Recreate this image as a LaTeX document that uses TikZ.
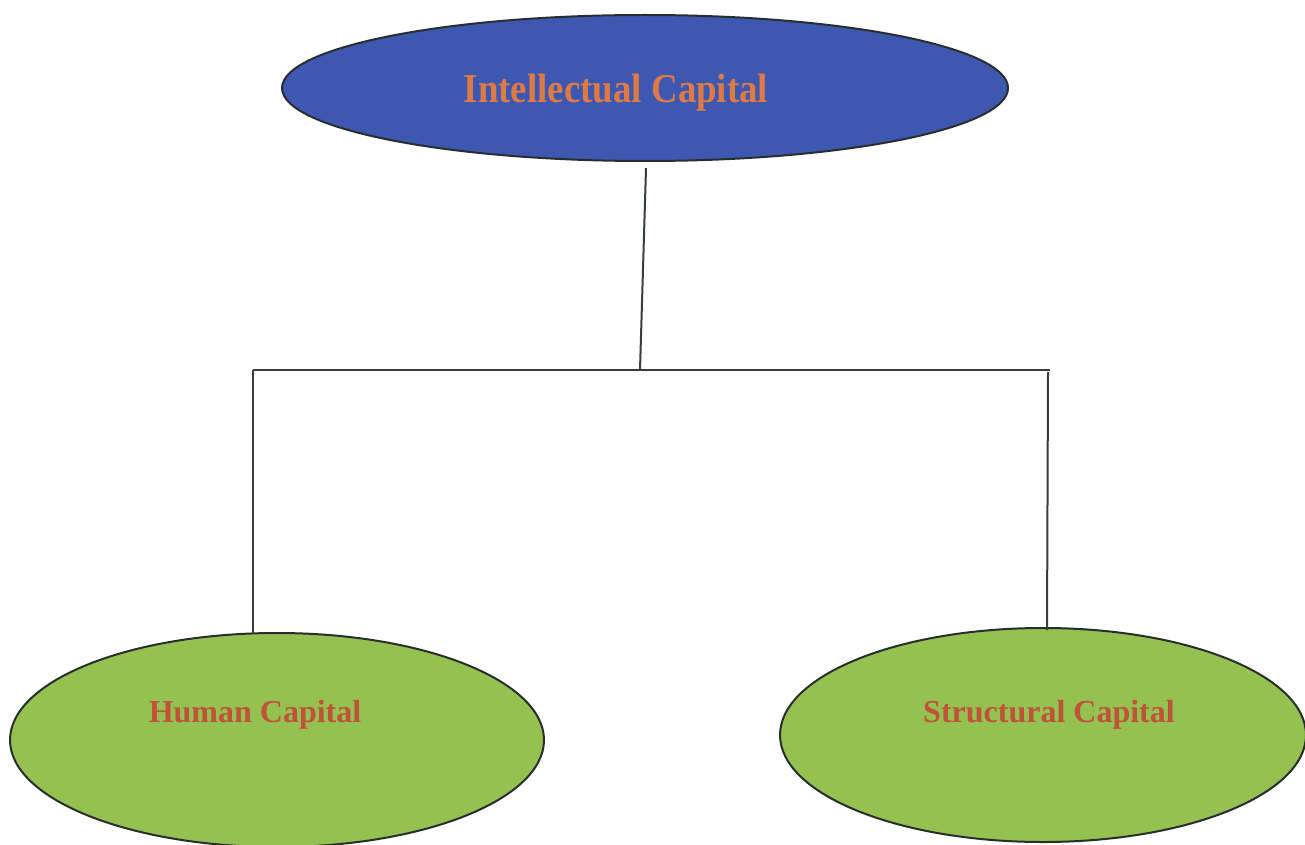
\documentclass[tikz,border=0pt]{standalone}
\usepackage{fontspec}
\setmainfont{Liberation Serif}
\usetikzlibrary{shapes.geometric}
\definecolor{capblue}{RGB}{62,88,178}
\definecolor{capgreen}{RGB}{148,193,80}
\definecolor{capedge}{RGB}{40,45,45}
\definecolor{toptext}{RGB}{222,122,70}
\definecolor{subtext}{RGB}{192,82,58}
\definecolor{linkgray}{RGB}{55,60,60}
\tikzset{
  capnode/.style={ellipse, draw=capedge, line width=2pt, inner sep=0pt},
  link/.style={draw=linkgray, line width=2pt},
}
\begin{document}
\begin{tikzpicture}[x=1pt,y=-1pt]
\useasboundingbox (0,0) rectangle (1305,845);
% top node
\node[capnode, fill=capblue, minimum width=726pt, minimum height=146pt] (ic) at (645,88) {};
\node[text=toptext, font=\fontsize{41}{44}\selectfont\bfseries] (ict) at (616,93)
  {\scalebox{0.9}[1]{Intellectual Capital}};
% lower nodes
\node[capnode, fill=capgreen, minimum width=534pt, minimum height=214pt] (hc) at (277,740) {};
\node[text=subtext, font=\fontsize{32}{36}\selectfont\bfseries] (hct) at (255,715) {Human Capital};
\node[capnode, fill=capgreen, minimum width=526pt, minimum height=214pt] (sc) at (1043,735) {};
\node[text=subtext, font=\fontsize{32}{36}\selectfont\bfseries] (sct) at (1049,715) {Structural Capital};
% connectors
\coordinate (drop) at (646,168);
\coordinate (mid) at (640,370);
\coordinate (lc) at (253,370);
\coordinate (rc) at (1050,370);
\coordinate (hl) at (253,633);
\coordinate (rtop) at (1048,372);
\coordinate (sl) at (1047,630);
\draw[link] (drop) -- (mid);
\draw[link] (lc) -- (rc);
\draw[link] (lc) -- (hl);
\draw[link] (rtop) -- (sl);
\end{tikzpicture}
\end{document}
